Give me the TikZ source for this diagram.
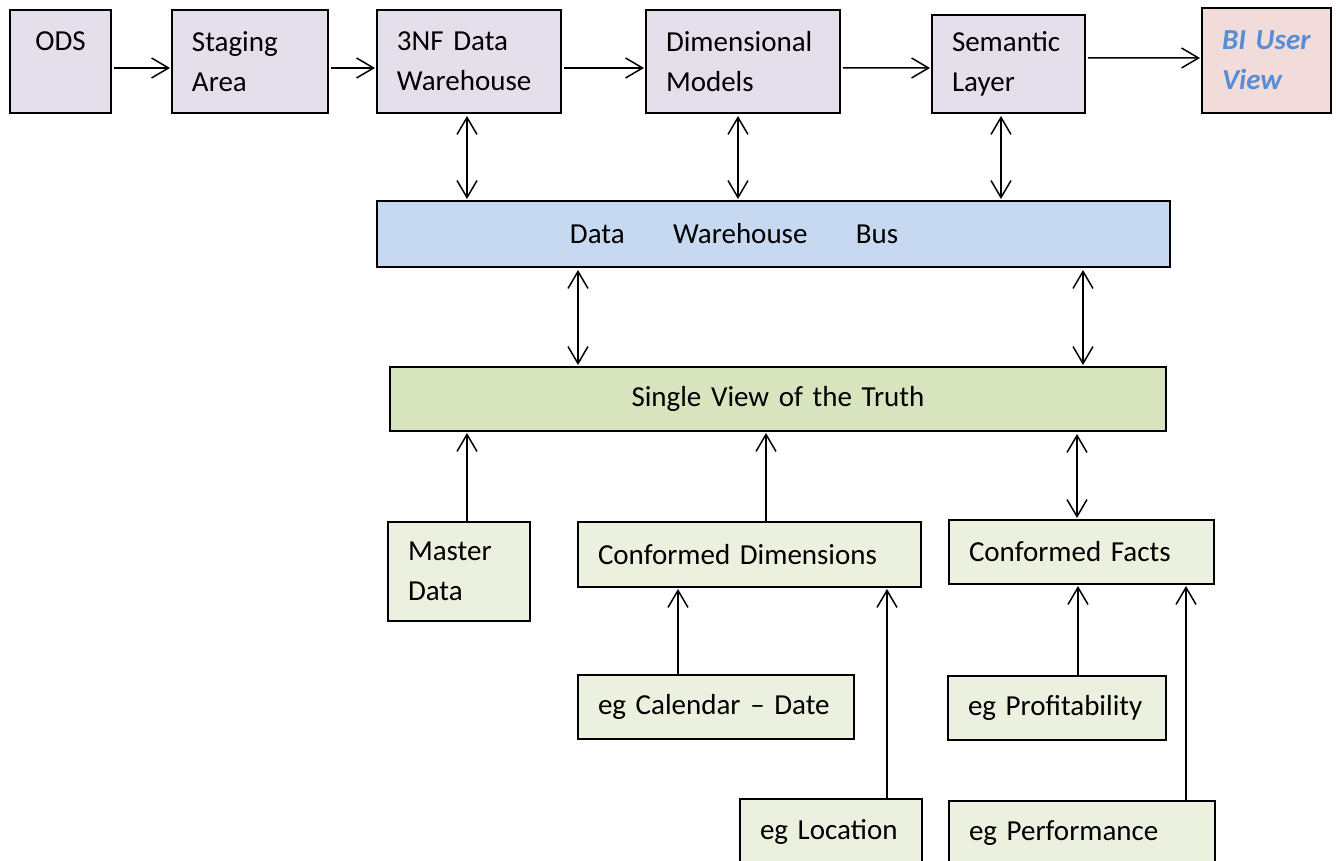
\documentclass[tikz,border=0pt]{standalone}
\usepackage{fontspec}
\setmainfont{Carlito}
\usetikzlibrary{arrows.meta}
\definecolor{lav}{HTML}{E5DFEC}
\definecolor{pinkish}{HTML}{F2DCDB}
\definecolor{busblue}{HTML}{C6D9F1}
\definecolor{truthgreen}{HTML}{D7E4BD}
\definecolor{palegreen}{HTML}{EBF1DE}
\definecolor{biblue}{HTML}{558ED5}
\tikzset{box/.style={rectangle, draw=black, line width=1.1pt, anchor=north west,
                     inner xsep=0.4cm, inner ysep=0pt, outer sep=0pt, align=left},
         topbox/.style={box, fill=lav},
         lowbox/.style={box, fill=palegreen},
         conn/.style={line width=0.85pt, shorten <=0.06cm, shorten >=0.04cm}}

\begin{document}
\begin{tikzpicture}[x=0.02cm, y=-0.02cm, >={Straight Barb[length=0.34cm, width=0.4cm]},
    font=\fontsize{16.5}{22.8}\selectfont]
    \clip (0,0) rectangle (1336,861);
    \fill[white] (0,0) rectangle (1336,861);
    % top row
    \node[topbox, align=center, minimum width=2.02cm, minimum height=2.06cm, text width=1.22cm]
        (ods) at (10,10) {ODS\\~};
    \node[topbox, minimum width=3.12cm, minimum height=2.06cm, text width=2.32cm]
        (stage) at (172,10) {Staging\\Area};
    \node[topbox, minimum width=3.68cm, minimum height=2.06cm, text width=2.88cm]
        (nf) at (377,10) {3NF Data\\Warehouse};
    \node[topbox, minimum width=3.88cm, minimum height=2.06cm, text width=3.08cm]
        (dim) at (646,10) {Dimensional\\Models};
    \node[topbox, minimum width=3.06cm, minimum height=1.96cm, text width=2.26cm]
        (sem) at (932,15) {Semantic\\Layer};
    \node[box, fill=pinkish, text=biblue, font=\fontsize{16.5}{22.8}\selectfont\bfseries\itshape,
        minimum width=2.58cm, minimum height=2.10cm, text width=1.78cm]
        (bi) at (1202,8) {BI User\\View};
    % bus and truth
    \node[box, fill=busblue, minimum width=15.86cm, minimum height=1.32cm, text width=15.06cm]
        (bus) at (377,201) {\hspace*{3.46cm}Data\hspace{0.97cm}Warehouse\hspace{0.97cm}Bus};
    \node[box, fill=truthgreen, align=center, minimum width=15.52cm, minimum height=1.28cm,
        text width=14.72cm] (svt) at (390,367) {Single View of the Truth};
    % lower boxes
    \node[lowbox, minimum width=2.84cm, minimum height=1.98cm, text width=2.04cm]
        (mast) at (388,522) {Master\\Data};
    \node[lowbox, minimum width=6.86cm, minimum height=1.30cm, text width=6.06cm]
        (cdim) at (578,522) {Conformed Dimensions};
    \node[lowbox, minimum width=5.30cm, minimum height=1.28cm, text width=4.50cm]
        (cfact) at (949,520) {Conformed Facts};
    \node[lowbox, minimum width=5.52cm, minimum height=1.28cm, text width=4.72cm]
        (cal) at (578,675) {eg Calendar -- Date};
    \node[lowbox, minimum width=4.36cm, minimum height=1.28cm, text width=3.56cm]
        (prof) at (948,676) {eg Profitability};
    \node[lowbox, minimum width=3.64cm, minimum height=1.30cm, text width=2.84cm]
        (loc) at (740,799) {eg Location};
    \node[lowbox, minimum width=5.32cm, minimum height=1.30cm, text width=4.52cm]
        (perf) at (949,801) {eg Performance};
    % flow along the top
    \draw[conn, ->] ([yshift=-0.13cm]ods.east) -- ([yshift=-0.13cm]stage.west);
    \draw[conn, ->] ([yshift=-0.13cm]stage.east) -- ([yshift=-0.13cm]nf.west);
    \draw[conn, ->] ([yshift=-0.13cm]nf.east) -- ([yshift=-0.13cm]dim.west);
    \draw[conn, ->] ([yshift=-0.13cm]dim.east) -- ([yshift=-0.08cm]sem.west);
    \draw[conn, ->] ([yshift=0.12cm]sem.east) -- ([yshift=0.05cm]bi.west);
    % two way links
    \foreach \x/\from/\to in {467/nf/bus, 738/dim/bus, 1001/sem/bus,
          578/bus/svt, 1083/bus/svt, 1077/svt/cfact}
      \draw[conn, <->] (\x,0 |- \from.south) -- (\x,0 |- \to.north);
    % feeding upwards
    \foreach \x/\from/\to in {467/mast/svt, 766/cdim/svt, 678/cal/cdim,
          887/loc/cdim, 1078/prof/cfact, 1186/perf/cfact}
      \draw[conn, ->, shorten <=0pt] (\x,0 |- \from.north) -- (\x,0 |- \to.south);
\end{tikzpicture}
\end{document}
